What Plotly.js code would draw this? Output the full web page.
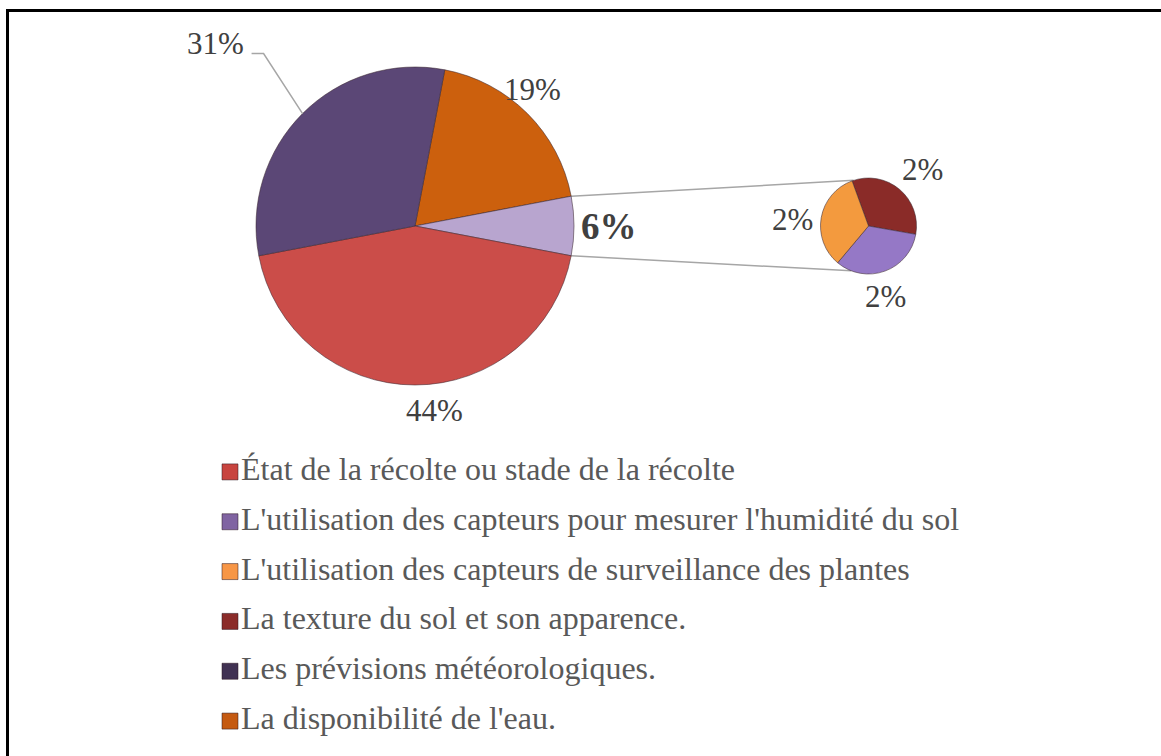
<!DOCTYPE html>
<html><head><meta charset="utf-8">
<script src="https://cdn.plot.ly/plotly-3.0.1.min.js"></script>
<style>html,body{margin:0;padding:0;background:#fff;}</style>
</head><body><div id="chart" style="width:1161px;height:756px;"></div>
<script>
// ---------- DATA ----------
// Main pie (clockwise order, starting with the slice right after the top)
const mainLabels = ["La disponibilité de l'eau.", "Autres", "État de la récolte ou stade de la récolte", "Les prévisions météorologiques."];
const mainValues = [19, 6, 44, 31];
const mainColors = ["#CC600D", "#B8A5CF", "#CB4D49", "#5B4776"];
const otherIndex = 1;
// Secondary pie: breakdown of "Autres"
const subLabels = ["La texture du sol et son apparence.", "L'utilisation des capteurs pour mesurer l'humidité du sol", "L'utilisation des capteurs de surveillance des plantes"];
const subValues = [2, 2, 2];
const subColors = ["#8A2B28", "#9578C6", "#F39A3E"];
// Legend
const legendLabels = ["État de la récolte ou stade de la récolte", "L'utilisation des capteurs pour mesurer l'humidité du sol", "L'utilisation des capteurs de surveillance des plantes", "La texture du sol et son apparence.", "Les prévisions météorologiques.", "La disponibilité de l'eau."];
const legendColors = ["#C8443F", "#8064A2", "#F79646", "#8B2C2A", "#403152", "#C55A11"];

// ---------- LAYOUT GEOMETRY ----------
const W = 1161, H = 756;
const M = {cx: 415, cy: 226, r: 159};
const S = {cx: 868.5, cy: 226, r: 48, rot: -20};
// label offsets (px) from slice edge at mid-angle
const mainLabelOff = [[5, -24], [35, 0], [19, 25], [-87, -70]];
const subLabelOff = [[23, -20], [1, 25], [-29, 2]];
const FONT = "Liberation Serif";

const px = (x) => x / W, py = (y) => 1 - y / H;
const dom = (g) => ({x: [px(g.cx - g.r), px(g.cx + g.r)], y: [py(g.cy + g.r), py(g.cy - g.r)]});
const pt = (g, deg, k) => { const a = deg * Math.PI / 180; return [g.cx + g.r * (k||1) * Math.sin(a), g.cy - g.r * (k||1) * Math.cos(a)]; };

const mainTot = mainValues.reduce((a, b) => a + b, 0);
function angles(values, rot) {
  const tot = values.reduce((a, b) => a + b, 0);
  let cur = rot; const out = [];
  values.forEach(v => { const span = v / tot * 360; out.push({start: cur, end: cur + span, mid: cur + span / 2, pct: Math.round(v / mainTot * 100)}); cur += span; });
  return out;
}
const before = mainValues.slice(0, otherIndex).reduce((a, b) => a + b, 0);
const mainRot = 90 - (before + mainValues[otherIndex] / 2) / mainTot * 360;
const mA = angles(mainValues, mainRot);
const sA = angles(subValues, S.rot);

const lineSty = {color: "rgba(60,40,50,0.55)", width: 1};
const traces = [
  {type: "pie", labels: mainLabels, values: mainValues, sort: false, direction: "clockwise", rotation: mainRot,
   marker: {colors: mainColors, line: lineSty}, textinfo: "none", hoverinfo: "skip", showlegend: false, domain: dom(M)},
  {type: "pie", labels: subLabels, values: subValues, sort: false, direction: "clockwise", rotation: S.rot,
   marker: {colors: subColors, line: lineSty}, textinfo: "none", hoverinfo: "skip", showlegend: false, domain: dom(S)},
  {type: "scatter", mode: "markers+text", x: legendLabels.map(() => 0), y: legendLabels, text: legendLabels,
   textposition: "middle right", textfont: {family: FONT, size: 32, color: "#595959"},
   marker: {symbol: "square", size: 16, color: legendColors, line: {color: "rgba(40,20,30,0.5)", width: 1}},
   hoverinfo: "skip", showlegend: false, cliponaxis: false}
];

const annotations = [];
const shapes = [];
mA.forEach((a, i) => {
  const e = pt(M, a.mid);
  const o = mainLabelOff[i];
  const bold = i === otherIndex;
  annotations.push({xref: "paper", yref: "paper", x: px(e[0] + o[0]), y: py(e[1] + o[1]), xanchor: "center", yanchor: "middle",
    text: bold ? "<b>" + a.pct + "%</b>" : a.pct + "%", showarrow: false,
    font: {family: FONT, size: bold ? 37 : 31, color: "#404040"}});
});
sA.forEach((a, i) => {
  const e = pt(S, a.mid);
  const o = subLabelOff[i];
  annotations.push({xref: "paper", yref: "paper", x: px(e[0] + o[0]), y: py(e[1] + o[1]), xanchor: "center", yanchor: "middle",
    text: a.pct + "%", showarrow: false, font: {family: FONT, size: 31, color: "#404040"}});
});
// leader line for the purple slice label
{
  const i = 3, e = pt(M, mA[i].mid), o = mainLabelOff[i];
  const lx = e[0] + o[0], ly = e[1] + o[1];
  shapes.push({type: "path", xref: "paper", yref: "paper",
    path: `M ${px(e[0])} ${py(e[1])} L ${px(lx + 48)} ${py(ly + 10)} L ${px(lx + 36)} ${py(ly + 10)}`,
    line: {color: "#A6A6A6", width: 1.5}});
}
// connector lines from "Autres" slice to secondary pie
{
  const o = mA[otherIndex];
  const p1 = pt(M, o.start), p2 = pt(M, o.end);
  const q1 = pt(S, -18), q2 = pt(S, 201);
  [[p1, q1], [p2, q2]].forEach(([p, q]) => shapes.push({type: "line", xref: "paper", yref: "paper",
    x0: px(p[0]), y0: py(p[1]), x1: px(q[0]), y1: py(q[1]), line: {color: "#A6A6A6", width: 1.5}, layer: "below"}));
}
// chart frame
shapes.push({type: "rect", xref: "paper", yref: "paper", x0: px(7.5), y0: py(10.5), x1: px(W + 20), y1: py(H + 20),
  line: {color: "#000", width: 3}, fillcolor: "rgba(0,0,0,0)"});

const layout = {
  width: W, height: H, margin: {l: 0, r: 0, t: 0, b: 0}, paper_bgcolor: "#fff", plot_bgcolor: "rgba(0,0,0,0)",
  showlegend: false,
  xaxis: {range: [-230, W - 230], visible: false, fixedrange: true, domain: [0, 1]},
  yaxis: {type: "category", range: [5.5, -0.5], visible: false, fixedrange: true, domain: [py(746), py(447)]},
  annotations: annotations, shapes: shapes
};
Plotly.newPlot("chart", traces, layout, {displayModeBar: false, staticPlot: true});
</script></body></html>
